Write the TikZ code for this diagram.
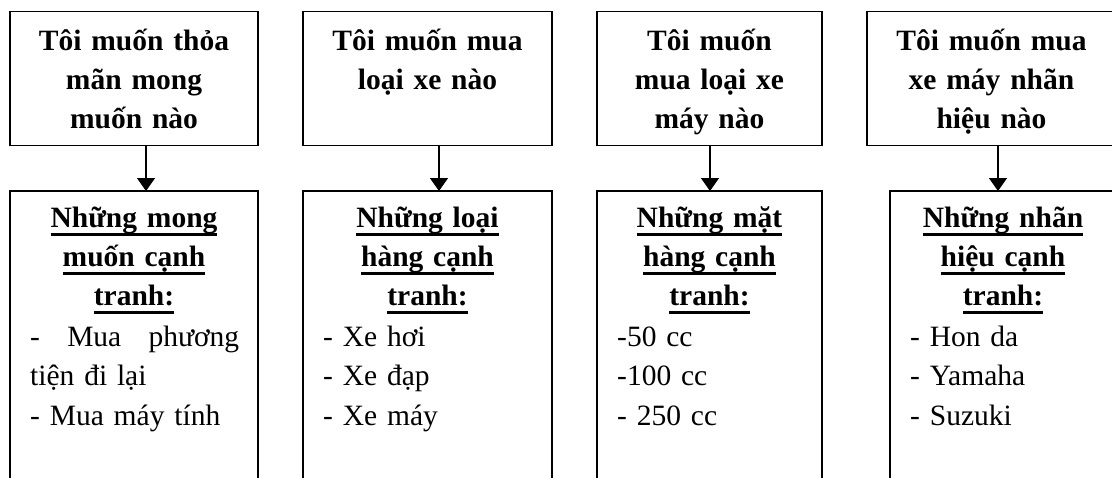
\documentclass[tikz,border=0pt]{standalone}
\usepackage{fontspec}
\setmainfont{Liberation Serif}
\usetikzlibrary{arrows.meta}
% heavy underline that runs through descenders
\newcommand\ulbar[1]{\leavevmode\setbox0=\hbox{#1}\rlap{\rule[-8.5pt]{\wd0}{3pt}}\box0}
\begin{document}
\begin{tikzpicture}[x=1pt,y=-1pt,
  box/.style={draw, line width=1.6pt, rectangle, inner sep=0pt, outer sep=0pt, anchor=north west},
  ttl/.style={font=\fontsize{29.5}{39.3}\selectfont\bfseries, align=center, anchor=base, inner sep=0pt},
  body/.style={font=\fontsize{29.5}{39.3}\selectfont, align=left, anchor=base west, inner sep=0pt, text width=215pt},
  arr/.style={line width=1.4pt, -{Triangle[length=13pt,width=18pt]}}]
\useasboundingbox (0,0) rectangle (1112,477);
\fill[white] (0,0) rectangle (1112,477);
\clip (0,0) rectangle (1112,477);

% question boxes
\node[box, minimum width=248pt, minimum height=134pt] (t1) at (10,11.5) {};
\node[box, minimum width=249pt, minimum height=134pt] (t2) at (303,11.5) {};
\node[box, minimum width=225pt, minimum height=134pt] (t3) at (597,11.5) {};
\node[box, minimum width=249pt, minimum height=134pt] (t4) at (867,11.5) {};

\node[ttl, text width=208pt] (q1) at (134,50) {Tôi muốn thỏa\\mãn mong\\muốn nào};
\node[ttl, text width=208pt] (q2) at (427.5,50) {Tôi muốn mua\\loại xe nào};
\node[ttl, text width=200pt] (q3) at (709.5,50) {Tôi muốn\\mua loại xe\\máy nào};
\node[ttl, text width=208pt] (q4) at (991.5,50) {Tôi muốn mua\\xe máy nhãn\\hiệu nào};

% competitor boxes (open at the bottom)
\node[box, minimum width=248pt, minimum height=330pt] (b1) at (10,191) {};
\node[box, minimum width=249pt, minimum height=330pt] (b2) at (303,191) {};
\node[box, minimum width=225pt, minimum height=330pt] (b3) at (597,191) {};
\node[box, minimum width=226pt, minimum height=330pt] (b4) at (890,191) {};

\node[ttl, text width=208pt] (h1) at (134,227) {\ulbar{Những mong}\\\ulbar{muốn cạnh}\\\ulbar{tranh:}};
\node[ttl, text width=208pt] (h2) at (427.5,227) {\ulbar{Những loại}\\\ulbar{hàng cạnh}\\\ulbar{tranh:}};
\node[ttl, text width=200pt] (h3) at (709.5,227) {\ulbar{Những mặt}\\\ulbar{hàng cạnh}\\\ulbar{tranh:}};
\node[ttl, text width=200pt] (h4) at (1003,227) {\ulbar{Những nhãn}\\\ulbar{hiệu cạnh}\\\ulbar{tranh:}};

\node[body] (l1) at (30,346.5) {\hbox to 209pt{-\hfill Mua\hfill phương}\\tiện đi lại\\- Mua máy tính};
\node[body] (l2) at (323,346.5) {- Xe hơi\\- Xe đạp\\- Xe máy};
\node[body] (l3) at (617,346.5) {-50 cc\\-100 cc\\- 250 cc};
\node[body] (l4) at (910,346.5) {- Hon da\\- Yamaha\\- Suzuki};

% connectors
\draw[arr] ([xshift=12pt]t1.south) -- ([xshift=12pt]t1.south |- b1.north);
\draw[arr] ([xshift=11.5pt]t2.south) -- ([xshift=11.5pt]t2.south |- b2.north);
\draw[arr] ([xshift=0.5pt]t3.south) -- ([xshift=0.5pt]t3.south |- b3.north);
\draw[arr] ([xshift=6.5pt]t4.south) -- ([xshift=6.5pt]t4.south |- b4.north);
\end{tikzpicture}
\end{document}
